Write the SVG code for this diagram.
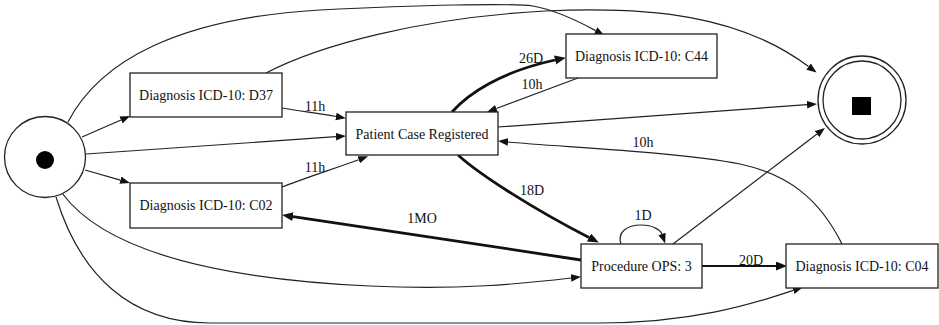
<svg xmlns="http://www.w3.org/2000/svg" width="939" height="325" viewBox="0 0 939 325" font-family="Liberation Serif, DejaVu Serif, serif">
<style>
text{font-size:14px;fill:#111;text-anchor:middle}
.n{fill:#fff;stroke:#222;stroke-width:1.3}
.e{fill:none;stroke:#222;stroke-width:1.2;marker-end:url(#a)}
.t{fill:none;stroke:#111;stroke-width:2.8;marker-end:url(#b)}
.m{fill:none;stroke:#111;stroke-width:2;marker-end:url(#b)}
</style>
<defs>
<marker id="a" markerUnits="userSpaceOnUse" markerWidth="11" markerHeight="8" refX="0" refY="3.8" orient="auto"><path d="M0,0 L10,3.8 L0,7.6 z" fill="#111"/></marker>
<marker id="b" markerUnits="userSpaceOnUse" markerWidth="12" markerHeight="10" refX="0" refY="4.5" orient="auto"><path d="M0,0 L11,4.5 L0,9 z" fill="#111"/></marker>
</defs>
<rect width="939" height="325" fill="#fff"/>
<g id="edges">
<path class="e" d="M82,137 L121,120"/>
<path class="e" d="M86,154 L336,136.7"/>
<path class="e" d="M85,170 L120.4,180.2"/>
<path class="e" d="M282,108 C300,111 315,113 336,116.5"/>
<text x="315" y="111" font-family="Liberation Serif, serif">11h</text>
<path class="e" d="M282,187 C300,180 330,170 358.7,159.7"/>
<text x="315" y="172" font-family="Liberation Serif, serif">11h</text>
<path class="t" d="M452,112 C468,94 500,72 555,60"/>
<text x="531" y="63" font-family="Liberation Serif, serif">26D</text>
<path class="e" d="M578,78 L496.4,108.5"/>
<text x="532" y="89" font-family="Liberation Serif, serif">10h</text>
<path class="e" d="M498,127 L807,104.7"/>
<path class="e" d="M842,244 C820,200 790,175 740,164 C680,152 560,147 508,142"/>
<text x="643" y="147" font-family="Liberation Serif, serif">10h</text>
<path class="t" d="M458,155 C480,175 535,210 589,237.5"/>
<text x="532" y="195" font-family="Liberation Serif, serif">18D</text>
<path class="t" d="M581,260 C500,248 380,229 293,216.6"/>
<text x="422" y="223" font-family="Liberation Serif, serif">1MO</text>
<path class="e" d="M62,193 C100,245 200,278 370,286 C460,290 520,284 571,278"/>
<path class="e" d="M56,197 C80,275 130,323 210,323 L600,323 C690,323 750,305 793.3,290.4"/>
<path class="e" d="M68,122 C100,60 180,18 320,10 C420,5 510,3 533,6 C555,10 578,21 595.6,30.6"/>
<path class="e" d="M266,73 C320,45 420,18 545,11 C650,6 740,15 808.6,66.6"/>
<path class="e" d="M621,244 C617,232 627,225 641,225 C654,225 661,231 662,234"/>
<text x="643" y="220" font-family="Liberation Serif, serif">1D</text>
<path class="e" d="M673,244 L817,134.1"/>
<path class="m" d="M702,266 L776,266"/>
<text x="751" y="265" font-family="Liberation Serif, serif">20D</text>
</g>
<g id="start"><circle class="n" cx="45" cy="157" r="40.5"/><circle cx="45" cy="160" r="9" fill="#000"/></g>
<g id="end"><circle class="n" cx="862" cy="100" r="44"/><circle class="n" cx="862" cy="100" r="39"/><rect x="852" y="97" width="19" height="18" fill="#000"/></g>
<g id="d37"><rect class="n" x="130" y="73" width="152" height="44"/><text x="206" y="100" font-family="Liberation Serif, serif">Diagnosis ICD-10: D37</text></g>
<g id="c02"><rect class="n" x="130" y="183" width="152" height="45"/><text x="206" y="210" font-family="Liberation Serif, serif">Diagnosis ICD-10: C02</text></g>
<g id="patient"><rect class="n" x="346" y="112" width="152" height="43"/><text x="422" y="139" font-family="Liberation Serif, serif">Patient Case Registered</text></g>
<g id="c44"><rect class="n" x="566" y="34" width="151" height="44"/><text x="641.5" y="61" font-family="Liberation Serif, serif">Diagnosis ICD-10: C44</text></g>
<g id="proc"><rect class="n" x="581" y="244" width="121" height="44"/><text x="641.5" y="271" font-family="Liberation Serif, serif">Procedure OPS: 3</text></g>
<g id="c04"><rect class="n" x="786" y="244" width="152" height="44"/><text x="862" y="271" font-family="Liberation Serif, serif">Diagnosis ICD-10: C04</text></g>
</svg>
